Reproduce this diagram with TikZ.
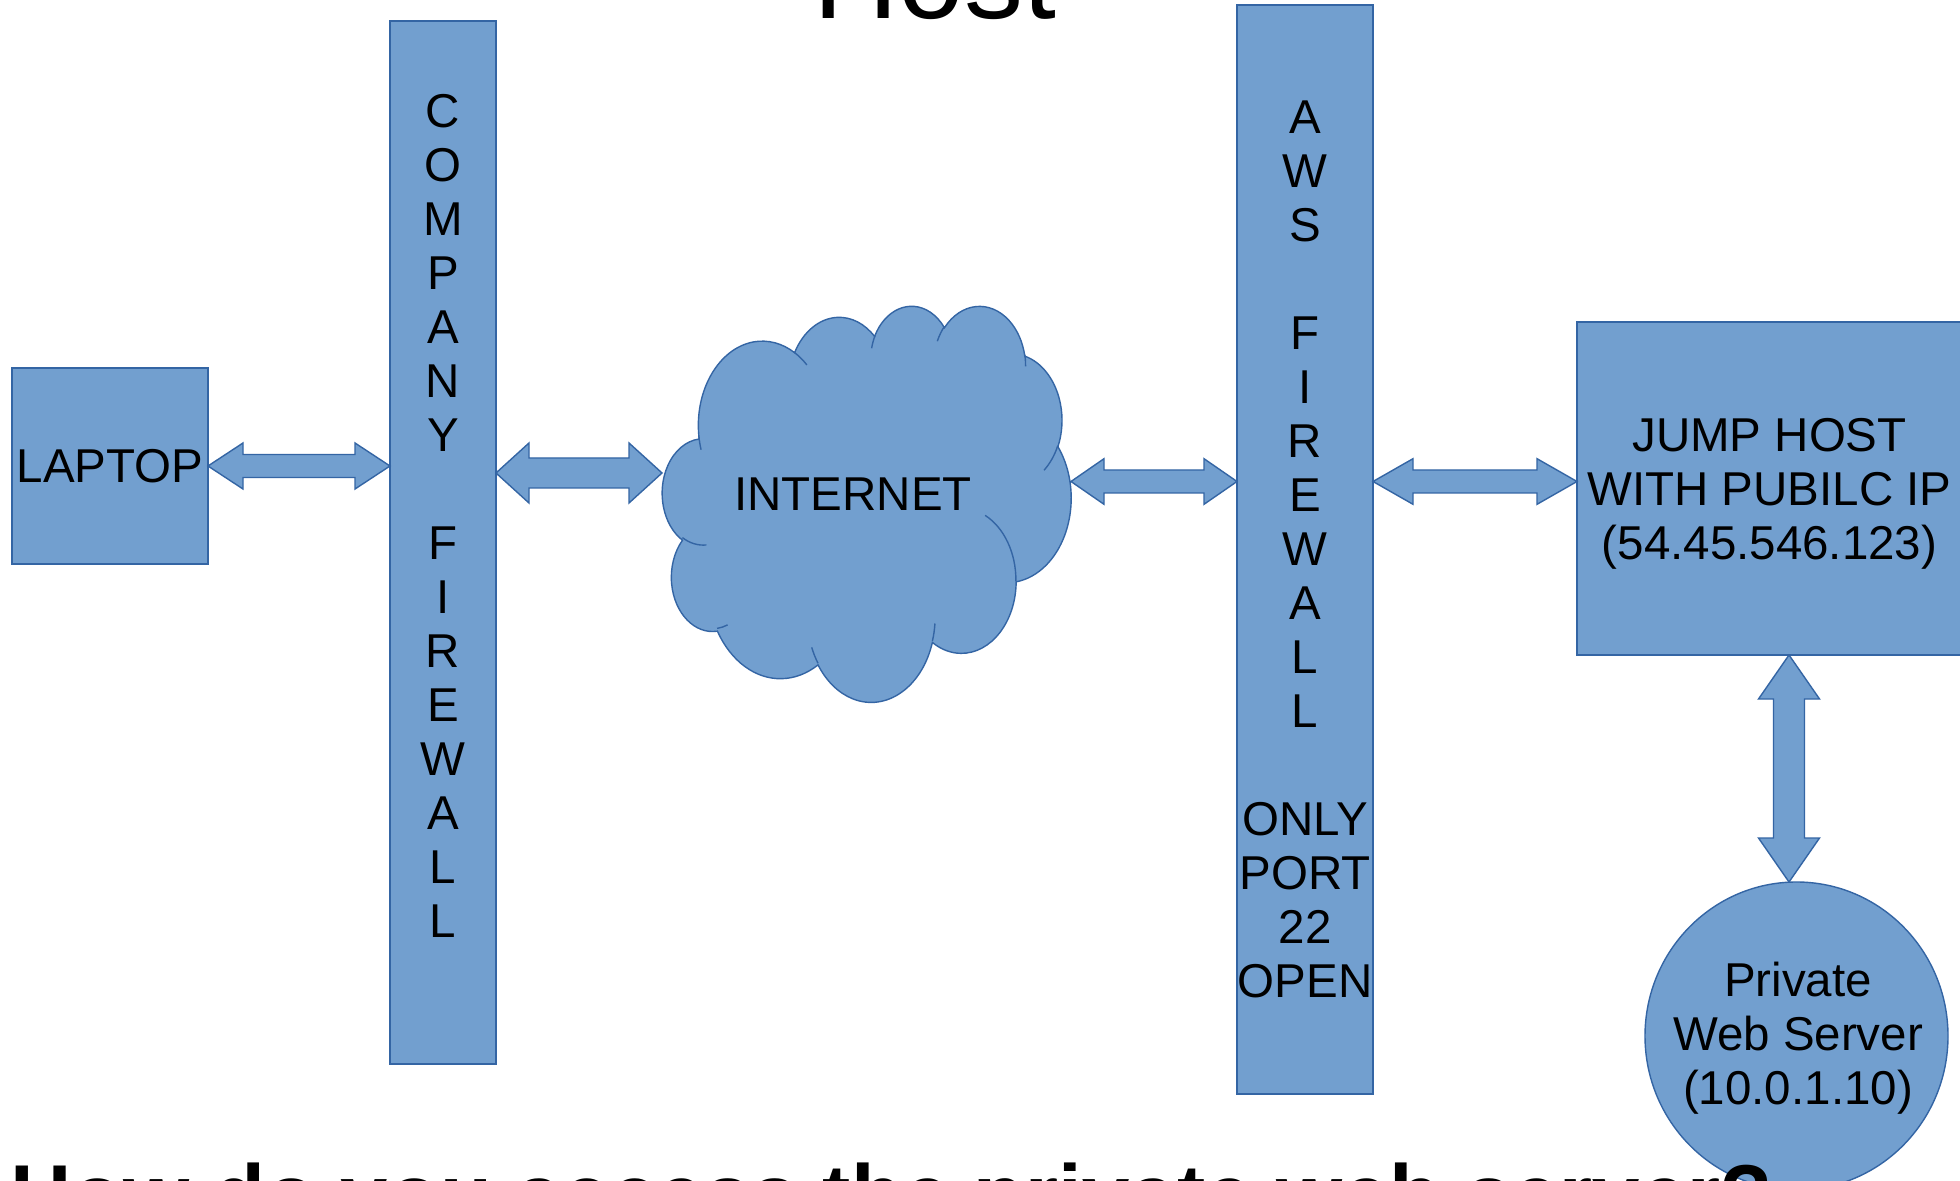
\documentclass[tikz,border=0pt]{standalone}
\usepackage{fontspec}
\setmainfont{Liberation Sans}
\usetikzlibrary{calc,shapes.geometric}

\definecolor{boxfill}{HTML}{729FCF}
\definecolor{boxline}{HTML}{3465A4}

\tikzset{
  shp/.style={fill=boxfill, draw=boxline, line width=0.7pt, inner sep=0pt, outer sep=0pt},
  boxnode/.style={shp, rectangle},
  lbl/.style={inner sep=0pt, outer sep=0pt, align=center, font=\fontsize{23.75pt}{27pt}\selectfont, text=black},
  barrow/.style={fill=boxfill, draw=boxline, line width=0.7pt, line join=miter},
}

% OOXML arc (visual angles) -> parametric angles
\newcommand\ooc[4]{%
  \pgfmathsetmacro\ooA{atan2((#1)*sin(#3),(#2)*cos(#3))}%
  \pgfmathsetmacro\ooB{atan2((#1)*sin((#3)+(#4)),(#2)*cos((#3)+(#4)))}%
  \pgfmathsetmacro\ooS{(#3)+Mod(\ooA-(#3)+180,360)-180}%
  \pgfmathsetmacro\ooE{(#3)+(#4)+Mod(\ooB-(#3)-(#4)+180,360)-180}%
  \global\let\ooS\ooS \global\let\ooE\ooE}
\newcommand\ooarc[4]{\pgfextra{\ooc{#1}{#2}{#3}{#4}} arc[start angle=\ooS, end angle=\ooE, x radius=#1, y radius=#2]}

% horizontal double block arrow: start, end, shaft half, head half, head length
\newcommand\harr[5]{%
  \path[barrow] let \p1=#1, \p2=#2 in
   (\x1,\y1) -- (\x1+#5,\y1+#4) -- (\x1+#5,\y1+#3) -- (\x2-#5,\y1+#3) -- (\x2-#5,\y1+#4)
   -- (\x2,\y1) -- (\x2-#5,\y1-#4) -- (\x2-#5,\y1-#3) -- (\x1+#5,\y1-#3) -- (\x1+#5,\y1-#4) -- cycle;}
% vertical double block arrow: top, bottom, shaft half, head half, head length
\newcommand\varr[5]{%
  \path[barrow] let \p1=#1, \p2=#2 in
   (\x1,\y1) -- (\x1+#4,\y1-#5) -- (\x1+#3,\y1-#5) -- (\x1+#3,\y2+#5) -- (\x1+#4,\y2+#5)
   -- (\x1,\y2) -- (\x1-#4,\y2+#5) -- (\x1-#3,\y2+#5) -- (\x1-#3,\y1-#5) -- (\x1-#4,\y1-#5) -- cycle;}

\begin{document}
\begin{tikzpicture}[x=0.5pt, y=-0.5pt]
\useasboundingbox (0,0) rectangle (1960,1181);
\fill[white] (0,0) rectangle (1960,1181);

% title (cut off at top)
\node[inner sep=0pt, anchor=base, font=\fontsize{59pt}{68pt}\selectfont] (title) at (934.5,19) {Host};

% boxes
\node[boxnode, minimum width=98pt, minimum height=98pt, lbl, fill=boxfill, draw=boxline, line width=0.7pt] (laptop) at (110,466) {LAPTOP};
\node[boxnode, minimum width=53pt, minimum height=521.5pt] (cf) at (443,542.5) {};
\node[lbl] (cftxt) at (443,515.6) {C\\O\\M\\P\\A\\N\\Y\\[27pt]F\\I\\R\\E\\W\\A\\L\\L};
\node[inner sep=0pt, outer sep=0pt, minimum width=204.5pt, minimum height=198pt] (cloud) at (866.5,503) {};
\node[boxnode, minimum width=68pt, minimum height=544.5pt] (aws) at (1305,549.5) {};
\node[lbl] (awstxt) at (1305,549) {A\\W\\S\\[27pt]F\\I\\R\\E\\W\\A\\L\\L\\[27pt]ONLY\\PORT\\22\\OPEN};
\node[boxnode, minimum width=192.5pt, minimum height=166.5pt] (jh) at (1769.5,488.5) {};
\node[lbl] (jhtxt) at (1769.5,493.5) {JUMP HOST\\WITH PUBILC IP\\(54.45.546.123)};
\node[shp, ellipse, minimum width=151.5pt, minimum height=154pt] (pws) at (1796.5,1036) {};
\node[lbl] (pwstxt) at (1798,1038) {Private\\Web Server\\(10.0.1.10)};

% cloud shape (OOXML preset geometry, scaled)
\begin{scope}[shift={(cloud.north west)}, xscale=0.094676, yscale=0.091667]
\path[shp] (390,1437)
  \ooarc{675.3}{919.0}{-190.4875}{123.7805}
  \ooarc{533.3}{726.7}{-144.1024}{89.9452}
  \ooarc{436.5}{594.5}{-145.8079}{99.7230}
  \ooarc{485.7}{659.5}{-130.9861}{117.2417}
  \ooarc{533.3}{727.3}{-78.7089}{109.0269}
  \ooarc{677.5}{922.0}{-46.2673}{130.2690}
  \ooarc{578.5}{786.7}{0.6250}{114.0333}
  \ooarc{675.2}{921.5}{22.4516}{115.1726}
  \ooarc{772.0}{1054.3}{66.2426}{74.8942}
  \ooarc{436.0}{591.8}{-274.9421}{146.7356}
  \ooarc{434.5}{594.5}{-246.8285}{152.5189}
  -- cycle;
\path[draw=boxline, line width=0.7pt]
  (469.3,2617.7) \ooarc{434.5}{594.5}{86.742}{26.4295}
  (692.8,3489.9) \ooarc{436.0}{591.8}{73.6105}{11.4475}
  (1647.8,3909.0) \ooarc{675.2}{921.5}{137.6242}{14.0811}
  (2882.7,3475.1) \ooarc{675.2}{921.5}{6.4533}{15.9984}
  (3412.9,2295.4) \ooarc{578.5}{786.7}{-70.2924}{70.9174}
  (4179.8,1535.4) \ooarc{533.3}{727.3}{30.3180}{27.7515}
  (3832.4,542.6) \ooarc{485.7}{659.5}{-13.7443}{14.8589}
  (2907.8,395.2) \ooarc{485.7}{659.5}{-149.1815}{18.1954}
  (2214.1,472.0) \ooarc{436.5}{594.5}{-163.4943}{17.6864}
  (1400.0,519.2) \ooarc{675.3}{919.0}{-66.7070}{12.3194}
  (412.7,1578.9) \ooarc{675.3}{919.0}{157.6544}{11.8582};
\end{scope}
\node[lbl] (nettxt) at (853,494.5) {INTERNET};

% connectors
\coordinate (yB) at (0,473);
\coordinate (yC) at (0,481.5);
\coordinate (xE) at (1789,0);
\harr{(laptop.east)}{(cf.west |- laptop.east)}{5.75pt}{11.5pt}{17.5pt}
\harr{(cf.east |- yB)}{(cloud.west |- yB)}{7.5pt}{15pt}{16.5pt}
\harr{(cloud.east |- yC)}{(aws.west |- yC)}{5.75pt}{11.4pt}{16.5pt}
\harr{(aws.east |- yC)}{(jh.west |- yC)}{5.75pt}{11.4pt}{20pt}
\varr{(jh.south -| xE)}{(pws.north -| xE)}{7.75pt}{15.25pt}{22pt}

% bottom question (cut off)
\node[inner sep=0pt, anchor=base west, font=\fontsize{42.5pt}{50pt}\selectfont\bfseries] (question) at (10,1224) {How do you access the private web server?};
\end{tikzpicture}
\end{document}
